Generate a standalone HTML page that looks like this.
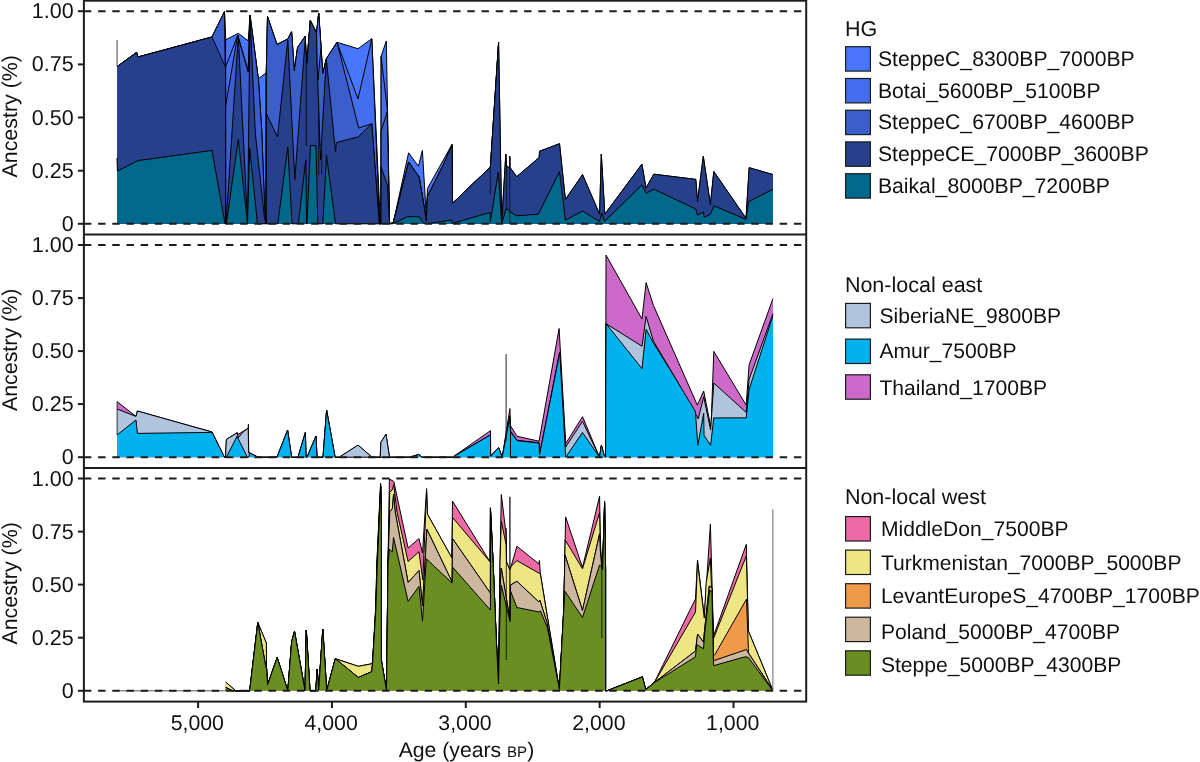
<!DOCTYPE html>
<html><head><meta charset="utf-8"><title>Ancestry through time</title>
<style>
html,body{margin:0;padding:0;background:#fff;}
body{width:1200px;height:762px;overflow:hidden;}
svg{display:block;will-change:transform;}
text{font-family:"Liberation Sans",sans-serif;fill:#111;text-rendering:geometricPrecision;}
</style></head><body>
<svg width="1200" height="762" viewBox="0 0 1200 762">
<rect width="1200" height="762" fill="#fff"/>
<g id="areas">
<path d="M117.0,223.8 L117.2,66.6 L136.6,52.4 L138.0,57.0 L212.0,37.0 L224.5,11.5 L225.7,39.8 L238.3,33.3 L248.2,40.8 L250.0,15.0 L258.3,78.8 L265.7,73.1 L266.2,73.0 L267.5,16.6 L277.0,44.5 L287.8,39.0 L291.6,31.8 L294.3,70.7 L297.6,47.3 L305.3,36.2 L305.8,50.0 L306.9,63.0 L310.3,20.6 L316.6,33.0 L318.7,13.1 L322.8,73.6 L326.3,58.8 L337.0,42.3 L358.0,48.7 L371.8,38.7 L380.4,223.8 L381.0,223.8 L381.1,56.3 L386.3,41.0 L389.6,223.8 L393.3,222.5 L408.6,152.8 L418.4,166.2 L422.4,150.4 L426.6,221.0 L427.4,188.6 L452.0,144.5 L452.5,203.3 L490.4,167.0 L498.6,42.5 L501.7,223.8 L505.8,154.2 L506.6,166.0 L509.5,168.0 L509.7,156.3 L510.0,167.5 L516.7,176.7 L539.2,157.5 L539.5,151.3 L559.5,143.7 L565.4,199.6 L582.5,174.6 L599.6,214.2 L601.3,154.2 L604.8,214.2 L641.9,164.2 L646.0,188.1 L653.8,174.2 L695.8,179.4 L697.5,201.7 L703.3,156.3 L710.4,204.8 L713.8,171.5 L746.0,218.3 L749.2,167.7 L773.0,174.6 L773.0,223.8Z" fill="#4876FF" stroke="none"/><path d="M117.2,66.6 L136.6,52.4 L138.0,57.0 L212.0,37.0 L224.5,11.5 L225.7,39.8 L238.3,33.3 L248.2,40.8 L250.0,15.0 L258.3,78.8 L265.7,73.1 L266.2,73.0 L267.5,16.6 L277.0,44.5 L287.8,39.0 L291.6,31.8 L294.3,70.7 L297.6,47.3 L305.3,36.2 L305.8,50.0 L306.9,63.0 L310.3,20.6 L316.6,33.0 L318.7,13.1 L322.8,73.6 L326.3,58.8 L337.0,42.3 L358.0,48.7 L371.8,38.7 L380.4,223.8 L381.0,223.8 L381.1,56.3 L386.3,41.0 L389.6,223.8 L393.3,222.5 L408.6,152.8 L418.4,166.2 L422.4,150.4 L426.6,221.0 L427.4,188.6 L452.0,144.5 L452.5,203.3 L490.4,167.0 L498.6,42.5 L501.7,223.8 L505.8,154.2 L506.6,166.0 L509.5,168.0 L509.7,156.3 L510.0,167.5 L516.7,176.7 L539.2,157.5 L539.5,151.3 L559.5,143.7 L565.4,199.6 L582.5,174.6 L599.6,214.2 L601.3,154.2 L604.8,214.2 L641.9,164.2 L646.0,188.1 L653.8,174.2 L695.8,179.4 L697.5,201.7 L703.3,156.3 L710.4,204.8 L713.8,171.5 L746.0,218.3 L749.2,167.7 L773.0,174.6" fill="none" stroke="#000" stroke-width="1.0" stroke-linejoin="miter" stroke-miterlimit="10"/>
<path d="M117.0,223.8 L117.2,66.6 L136.6,52.4 L138.0,57.0 L212.0,37.0 L224.5,11.5 L225.6,67.0 L237.8,35.0 L248.2,71.0 L250.0,15.0 L258.4,79.3 L261.7,130.0 L264.9,214.0 L266.2,223.8 L266.3,73.0 L267.5,16.6 L277.0,44.5 L287.8,39.0 L291.6,31.8 L294.3,70.7 L297.6,47.3 L305.3,36.2 L305.8,50.0 L306.9,63.0 L310.3,20.6 L316.6,33.0 L318.7,13.1 L322.8,73.6 L326.3,58.8 L337.0,42.3 L358.0,99.0 L371.8,38.7 L379.6,223.8 L381.0,223.8 L381.1,56.5 L387.2,108.0 L389.6,223.8 L393.3,222.5 L408.7,162.0 L419.2,177.2 L425.9,217.5 L426.3,220.8 L427.4,196.5 L444.0,163.4 L452.0,144.7 L452.5,203.3 L490.4,167.0 L498.6,42.5 L501.7,223.8Z" fill="#436EEE" stroke="none"/><path d="M117.2,66.6 L136.6,52.4 L138.0,57.0 L212.0,37.0 L224.5,11.5 L225.6,67.0 L237.8,35.0 L248.2,71.0 L250.0,15.0 L258.4,79.3 L261.7,130.0 L264.9,214.0 L266.2,223.8 L266.3,73.0 L267.5,16.6 L277.0,44.5 L287.8,39.0 L291.6,31.8 L294.3,70.7 L297.6,47.3 L305.3,36.2 L305.8,50.0 L306.9,63.0 L310.3,20.6 L316.6,33.0 L318.7,13.1 L322.8,73.6 L326.3,58.8 L337.0,42.3 L358.0,99.0 L371.8,38.7 L379.6,223.8 L381.0,223.8 L381.1,56.5 L387.2,108.0 L389.6,223.8 L393.3,222.5 L408.7,162.0 L419.2,177.2 L425.9,217.5 L426.3,220.8 L427.4,196.5 L444.0,163.4 L452.0,144.7 L452.5,203.3 L490.4,167.0 L498.6,42.5" fill="none" stroke="#000" stroke-width="1.0" stroke-linejoin="miter" stroke-miterlimit="10"/>
<path d="M117.0,223.8 L117.2,66.6 L136.6,52.4 L138.0,57.0 L212.0,37.0 L224.5,11.5 L225.6,106.0 L237.6,35.5 L248.2,72.0 L250.0,15.0 L258.4,79.6 L261.7,130.3 L264.9,214.3 L266.2,223.8 L266.3,73.0 L267.5,16.6 L277.0,44.5 L287.8,39.0 L291.6,31.8 L294.3,70.7 L297.6,47.3 L305.3,36.2 L305.8,50.0 L306.9,63.0 L310.3,20.6 L316.6,33.0 L318.7,13.1 L322.8,73.6 L326.3,58.8 L337.0,42.3 L358.7,128.0 L371.8,123.7 L379.3,223.8 L381.0,223.8 L381.1,131.0 L387.2,112.0 L389.6,223.8 L393.3,222.5 L408.7,162.0 L419.2,177.2 L425.9,217.5 L426.3,220.8 L427.4,196.5 L444.0,163.4 L452.0,144.7 L452.5,203.3 L490.4,167.0 L498.6,42.5 L501.7,223.8Z" fill="#3A5FCD" stroke="none"/><path d="M117.2,66.6 L136.6,52.4 L138.0,57.0 L212.0,37.0 L224.5,11.5 L225.6,106.0 L237.6,35.5 L248.2,72.0 L250.0,15.0 L258.4,79.6 L261.7,130.3 L264.9,214.3 L266.2,223.8 L266.3,73.0 L267.5,16.6 L277.0,44.5 L287.8,39.0 L291.6,31.8 L294.3,70.7 L297.6,47.3 L305.3,36.2 L305.8,50.0 L306.9,63.0 L310.3,20.6 L316.6,33.0 L318.7,13.1 L322.8,73.6 L326.3,58.8 L337.0,42.3 L358.7,128.0 L371.8,123.7 L379.3,223.8 L381.0,223.8 L381.1,131.0 L387.2,112.0 L389.6,223.8 L393.3,222.5 L408.7,162.0 L419.2,177.2 L425.9,217.5 L426.3,220.8 L427.4,196.5 L444.0,163.4 L452.0,144.7 L452.5,203.3 L490.4,167.0 L498.6,42.5" fill="none" stroke="#000" stroke-width="1.0" stroke-linejoin="miter" stroke-miterlimit="10"/>
<path d="M117.0,223.8 L117.2,66.6 L136.6,52.4 L138.0,57.0 L212.0,37.0 L224.5,65.0 L225.6,67.0 L225.7,223.8 L226.0,223.8 L238.3,36.0 L247.6,223.8 L250.0,15.0 L255.3,133.0 L264.5,218.0 L266.2,223.8 L266.4,113.6 L277.5,137.0 L287.8,40.0 L294.8,179.5 L305.3,38.0 L305.8,50.0 L306.9,63.0 L310.3,20.6 L316.6,33.0 L317.2,66.0 L320.5,160.0 L326.3,58.8 L335.5,152.0 L336.3,142.5 L358.0,137.0 L371.8,123.7 L379.3,223.8 L381.0,223.8 L381.1,167.0 L387.4,185.0 L389.6,223.8 L393.3,222.5 L408.7,162.0 L419.2,177.2 L425.9,217.5 L426.3,220.8 L427.4,196.5 L444.0,163.4 L452.0,144.7 L452.5,203.3 L490.4,167.0 L498.6,42.5 L501.7,223.8 L505.8,154.2 L506.6,166.0 L509.5,168.0 L509.7,156.3 L510.0,167.5 L516.7,176.7 L539.2,157.5 L539.5,151.3 L559.5,143.7 L565.4,199.6 L582.5,174.6 L599.6,214.2 L601.3,154.2 L604.8,214.2 L641.9,164.2 L646.0,188.1 L653.8,174.2 L695.8,179.4 L697.5,201.7 L703.3,156.3 L710.4,204.8 L713.8,171.5 L746.0,218.3 L749.2,167.7 L773.0,174.6 L773.0,223.8Z" fill="#27408B" stroke="none"/><path d="M117.2,66.6 L136.6,52.4 L138.0,57.0 L212.0,37.0 L224.5,65.0 L225.6,67.0 L225.7,223.8 L226.0,223.8 L238.3,36.0 L247.6,223.8 L250.0,15.0 L255.3,133.0 L264.5,218.0 L266.2,223.8 L266.4,113.6 L277.5,137.0 L287.8,40.0 L294.8,179.5 L305.3,38.0 L305.8,50.0 L306.9,63.0 L310.3,20.6 L316.6,33.0 L317.2,66.0 L320.5,160.0 L326.3,58.8 L335.5,152.0 L336.3,142.5 L358.0,137.0 L371.8,123.7 L379.3,223.8 L381.0,223.8 L381.1,167.0 L387.4,185.0 L389.6,223.8 L393.3,222.5 L408.7,162.0 L419.2,177.2 L425.9,217.5 L426.3,220.8 L427.4,196.5 L444.0,163.4 L452.0,144.7 L452.5,203.3 L490.4,167.0 L498.6,42.5 L501.7,223.8 L505.8,154.2 L506.6,166.0 L509.5,168.0 L509.7,156.3 L510.0,167.5 L516.7,176.7 L539.2,157.5 L539.5,151.3 L559.5,143.7 L565.4,199.6 L582.5,174.6 L599.6,214.2 L601.3,154.2 L604.8,214.2 L641.9,164.2 L646.0,188.1 L653.8,174.2 L695.8,179.4 L697.5,201.7 L703.3,156.3 L710.4,204.8 L713.8,171.5 L746.0,218.3 L749.2,167.7 L773.0,174.6" fill="none" stroke="#000" stroke-width="1.0" stroke-linejoin="miter" stroke-miterlimit="10"/>
<path d="M117.0,223.8 L117.0,158.0 L117.4,171.0 L138.0,160.6 L212.0,150.4 L225.0,223.8 L226.3,223.8 L238.3,139.5 L247.5,223.8 L249.7,148.5 L257.5,223.8 L277.8,223.8 L287.8,147.0 L292.0,223.8 L298.3,223.8 L305.8,159.8 L306.5,223.8 L306.9,223.8 L310.5,145.5 L316.0,145.5 L317.8,223.8 L322.8,223.8 L326.5,155.3 L335.5,223.8 L392.5,223.8 L407.5,216.7 L419.2,216.7 L423.0,222.5 L426.7,223.8 L451.7,220.0 L452.5,223.3 L490.0,212.5 L490.3,221.7 L498.3,172.0 L501.7,223.8 L506.3,208.3 L510.0,211.7 L516.7,215.8 L538.3,214.2 L559.5,171.7 L565.4,220.2 L582.5,211.0 L599.6,221.5 L601.7,213.1 L604.4,221.5 L641.9,185.0 L646.0,193.3 L653.8,189.2 L695.8,209.0 L697.5,215.2 L703.3,212.1 L704.2,217.3 L710.4,214.2 L713.8,205.8 L746.0,219.4 L748.5,201.7 L773.0,189.2 L773.0,223.8Z" fill="#00688B" stroke="none"/><path d="M117.0,158.0 L117.4,171.0 L138.0,160.6 L212.0,150.4 L225.0,223.8 L226.3,223.8 L238.3,139.5 L247.5,223.8 L249.7,148.5 L257.5,223.8 L277.8,223.8 L287.8,147.0 L292.0,223.8 L298.3,223.8 L305.8,159.8 L306.5,223.8 L306.9,223.8 L310.5,145.5 L316.0,145.5 L317.8,223.8 L322.8,223.8 L326.5,155.3 L335.5,223.8 L392.5,223.8 L407.5,216.7 L419.2,216.7 L423.0,222.5 L426.7,223.8 L451.7,220.0 L452.5,223.3 L490.0,212.5 L490.3,221.7 L498.3,172.0 L501.7,223.8 L506.3,208.3 L510.0,211.7 L516.7,215.8 L538.3,214.2 L559.5,171.7 L565.4,220.2 L582.5,211.0 L599.6,221.5 L601.7,213.1 L604.4,221.5 L641.9,185.0 L646.0,193.3 L653.8,189.2 L695.8,209.0 L697.5,215.2 L703.3,212.1 L704.2,217.3 L710.4,214.2 L713.8,205.8 L746.0,219.4 L748.5,201.7 L773.0,189.2" fill="none" stroke="#000" stroke-width="1.0" stroke-linejoin="miter" stroke-miterlimit="10"/>
<path d="M316.6,33.0 L318.7,13.1 L321.0,47.0 L318.0,80.0 L317.2,66.0Z" fill="#4876FF" stroke="#000" stroke-width="1.0" stroke-linejoin="miter" stroke-miterlimit="10"/>
<path d="M225.6,39.0 L225.6,223.8" fill="none" stroke="#000" stroke-width="1.0"/>
<path d="M266.2,73.0 L266.2,223.8" fill="none" stroke="#000" stroke-width="1.0"/>
<path d="M306.2,60.0 L306.2,146.0" fill="none" stroke="#000" stroke-width="0.9"/>
<path d="M490.3,167.0 L490.3,194.6" fill="none" stroke="#000" stroke-width="0.7"/>
<path d="M509.8,156.3 L509.8,223.8" fill="none" stroke="#000" stroke-width="0.7"/>
<path d="M506.6,166.0 L506.8,210.0" fill="none" stroke="#000" stroke-width="0.7"/>
<path d="M117.1,40.0 L117.1,66.6" fill="none" stroke="#333" stroke-width="0.9"/>
<path d="M318.7,100.0 L318.7,175.0" fill="none" stroke="#000" stroke-width="0.7"/>
<path d="M321.7,150.0 L321.7,174.0" fill="none" stroke="#000" stroke-width="0.7"/>
<path d="M117.0,457.2 L117.0,401.6 L136.0,416.4 L137.4,411.0 L212.0,432.0 L224.4,457.2 L225.5,457.2 L226.4,439.4 L237.3,432.5 L238.0,434.5 L248.2,428.1 L248.4,424.3 L248.7,453.0 L249.9,453.0 L258.0,457.2 L277.0,457.2 L287.6,430.0 L291.6,457.2 L298.0,457.2 L305.4,432.4 L306.0,457.2 L307.0,457.2 L316.0,436.0 L317.0,457.2 L323.0,457.2 L326.6,410.0 L335.1,457.2 L339.3,457.2 L358.0,445.1 L372.0,457.2 L380.2,457.2 L380.9,442.3 L386.0,434.2 L389.5,457.2 L409.3,457.2 L418.7,454.5 L422.2,457.2 L452.5,457.2 L490.5,430.7 L490.6,456.3 L498.5,447.5 L502.2,457.2 L509.9,408.6 L510.5,425.8 L517.1,436.3 L539.1,441.2 L559.1,328.5 L565.7,443.5 L582.5,416.7 L599.5,457.2 L601.4,445.1 L604.2,455.5 L605.6,457.2 L606.0,255.1 L642.0,319.0 L646.1,282.6 L653.4,305.3 L697.3,405.1 L703.7,391.0 L711.0,428.0 L713.8,351.4 L746.2,405.1 L749.1,364.8 L773.0,298.5 L773.0,457.2Z" fill="#CD69C9" stroke="none"/><path d="M117.0,401.6 L136.0,416.4 L137.4,411.0 L212.0,432.0 L224.4,457.2 L225.5,457.2 L226.4,439.4 L237.3,432.5 L238.0,434.5 L248.2,428.1 L248.4,424.3 L248.7,453.0 L249.9,453.0 L258.0,457.2 L277.0,457.2 L287.6,430.0 L291.6,457.2 L298.0,457.2 L305.4,432.4 L306.0,457.2 L307.0,457.2 L316.0,436.0 L317.0,457.2 L323.0,457.2 L326.6,410.0 L335.1,457.2 L339.3,457.2 L358.0,445.1 L372.0,457.2 L380.2,457.2 L380.9,442.3 L386.0,434.2 L389.5,457.2 L409.3,457.2 L418.7,454.5 L422.2,457.2 L452.5,457.2 L490.5,430.7 L490.6,456.3 L498.5,447.5 L502.2,457.2 L509.9,408.6 L510.5,425.8 L517.1,436.3 L539.1,441.2 L559.1,328.5 L565.7,443.5 L582.5,416.7 L599.5,457.2 L601.4,445.1 L604.2,455.5 L605.6,457.2 L606.0,255.1 L642.0,319.0 L646.1,282.6 L653.4,305.3 L697.3,405.1 L703.7,391.0 L711.0,428.0 L713.8,351.4 L746.2,405.1 L749.1,364.8 L773.0,298.5" fill="none" stroke="#000" stroke-width="1.0" stroke-linejoin="miter" stroke-miterlimit="10"/>
<path d="M117.0,457.2 L117.0,409.0 L136.0,416.4 L137.4,411.0 L212.0,432.0 L224.4,457.2 L225.5,457.2 L226.4,439.4 L237.3,432.8 L238.0,438.0 L244.0,431.2 L248.2,428.3 L248.7,453.0 L249.9,453.0 L258.0,457.2 L277.0,457.2 L287.6,430.0 L291.6,457.2 L298.0,457.2 L305.4,432.4 L306.0,457.2 L307.0,457.2 L316.0,436.0 L317.0,457.2 L323.0,457.2 L326.6,410.0 L335.1,457.2 L339.3,457.2 L358.0,445.1 L372.0,457.2 L380.2,457.2 L380.9,442.3 L386.0,434.2 L389.5,457.2 L409.3,457.2 L418.7,454.5 L422.2,457.2 L452.5,457.2 L490.5,434.9 L490.6,456.3 L498.5,447.5 L502.2,457.2 L509.8,416.0 L510.5,431.0 L517.1,440.3 L539.1,442.8 L539.5,455.0 L559.5,352.5 L565.7,447.0 L582.5,421.3 L599.5,457.2 L601.4,445.1 L604.2,455.5 L605.6,457.2 L606.0,323.6 L642.0,346.3 L646.1,316.3 L653.4,341.1 L676.0,379.0 L698.2,418.8 L703.7,396.8 L710.6,429.8 L713.8,383.1 L746.2,412.4 L749.1,379.4 L773.0,313.5 L773.0,457.2Z" fill="#B0C4DE" stroke="none"/><path d="M117.0,409.0 L136.0,416.4 L137.4,411.0 L212.0,432.0 L224.4,457.2 L225.5,457.2 L226.4,439.4 L237.3,432.8 L238.0,438.0 L244.0,431.2 L248.2,428.3 L248.7,453.0 L249.9,453.0 L258.0,457.2 L277.0,457.2 L287.6,430.0 L291.6,457.2 L298.0,457.2 L305.4,432.4 L306.0,457.2 L307.0,457.2 L316.0,436.0 L317.0,457.2 L323.0,457.2 L326.6,410.0 L335.1,457.2 L339.3,457.2 L358.0,445.1 L372.0,457.2 L380.2,457.2 L380.9,442.3 L386.0,434.2 L389.5,457.2 L409.3,457.2 L418.7,454.5 L422.2,457.2 L452.5,457.2 L490.5,434.9 L490.6,456.3 L498.5,447.5 L502.2,457.2 L509.8,416.0 L510.5,431.0 L517.1,440.3 L539.1,442.8 L539.5,455.0 L559.5,352.5 L565.7,447.0 L582.5,421.3 L599.5,457.2 L601.4,445.1 L604.2,455.5 L605.6,457.2 L606.0,323.6 L642.0,346.3 L646.1,316.3 L653.4,341.1 L676.0,379.0 L698.2,418.8 L703.7,396.8 L710.6,429.8 L713.8,383.1 L746.2,412.4 L749.1,379.4 L773.0,313.5" fill="none" stroke="#000" stroke-width="1.0" stroke-linejoin="miter" stroke-miterlimit="10"/>
<path d="M117.0,457.2 L117.0,435.0 L136.0,420.0 L137.4,433.4 L212.0,432.4 L224.4,457.2 L226.4,457.2 L237.0,436.3 L247.4,457.2 L248.5,457.2 L249.9,453.0 L258.0,457.2 L277.0,457.2 L287.6,430.0 L291.6,457.2 L298.0,457.2 L305.4,432.4 L306.0,457.2 L307.0,457.2 L316.0,436.0 L317.0,457.2 L323.0,457.2 L326.6,410.0 L335.1,457.2 L409.3,457.2 L412.0,457.2 L418.7,454.5 L422.2,457.2 L452.5,457.2 L490.5,434.9 L490.6,456.3 L498.5,447.5 L502.2,457.2 L509.7,418.0 L510.5,432.0 L517.1,440.7 L539.1,443.0 L539.5,455.0 L559.8,352.5 L565.7,457.2 L582.5,432.5 L599.5,457.2 L601.4,445.1 L604.2,455.5 L605.6,457.2 L606.0,323.6 L642.0,368.7 L646.1,329.2 L653.4,343.0 L676.4,380.0 L695.4,411.5 L697.8,445.4 L703.7,413.3 L704.0,435.3 L710.6,445.4 L713.8,417.9 L746.2,417.9 L749.1,389.5 L773.0,315.4 L773.0,457.2Z" fill="#00B2EE" stroke="none"/><path d="M117.0,435.0 L136.0,420.0 L137.4,433.4 L212.0,432.4 L224.4,457.2 L226.4,457.2 L237.0,436.3 L247.4,457.2 L248.5,457.2 L249.9,453.0 L258.0,457.2 L277.0,457.2 L287.6,430.0 L291.6,457.2 L298.0,457.2 L305.4,432.4 L306.0,457.2 L307.0,457.2 L316.0,436.0 L317.0,457.2 L323.0,457.2 L326.6,410.0 L335.1,457.2 L409.3,457.2 L412.0,457.2 L418.7,454.5 L422.2,457.2 L452.5,457.2 L490.5,434.9 L490.6,456.3 L498.5,447.5 L502.2,457.2 L509.7,418.0 L510.5,432.0 L517.1,440.7 L539.1,443.0 L539.5,455.0 L559.8,352.5 L565.7,457.2 L582.5,432.5 L599.5,457.2 L601.4,445.1 L604.2,455.5 L605.6,457.2 L606.0,323.6 L642.0,368.7 L646.1,329.2 L653.4,343.0 L676.4,380.0 L695.4,411.5 L697.8,445.4 L703.7,413.3 L704.0,435.3 L710.6,445.4 L713.8,417.9 L746.2,417.9 L749.1,389.5 L773.0,315.4" fill="none" stroke="#000" stroke-width="1.0" stroke-linejoin="miter" stroke-miterlimit="10"/>
<path d="M506.1,354.1 L506.1,441.0" fill="none" stroke="#222" stroke-width="1.0"/>
<path d="M510.5,426.0 L510.5,457.2" fill="none" stroke="#000" stroke-width="1.0"/>
<path d="M117.1,401.6 L117.1,435.0" fill="none" stroke="#222" stroke-width="0.9"/>
<path d="M117.0,690.8 L250.0,690.8" fill="none" stroke="#444" stroke-width="0.9"/>
<path d="M225.0,690.8 L225.8,682.2 L235.8,690.8 L249.7,690.8 L257.8,622.5 L266.3,643.0 L266.5,668.3 L267.5,685.0 L277.2,657.5 L287.8,690.8 L291.7,641.7 L294.5,631.3 L305.0,690.8 L306.3,630.0 L310.0,690.8 L315.8,690.8 L317.2,669.2 L318.7,690.0 L322.8,629.2 L326.7,690.8 L335.3,658.7 L358.3,666.3 L371.7,663.8 L372.6,662.0 L375.6,610.0 L376.9,563.0 L380.6,483.6 L381.3,520.0 L381.3,660.0 L386.5,690.6 L388.0,563.0 L389.4,479.0 L393.8,481.5 L408.1,548.0 L419.0,538.6 L422.5,553.0 L426.6,488.6 L427.5,514.3 L451.9,558.0 L452.5,501.1 L490.0,561.8 L490.4,507.8 L493.1,563.0 L496.3,640.0 L498.5,684.0 L500.0,563.0 L501.3,494.5 L506.2,535.0 L506.6,562.0 L509.8,570.0 L510.6,568.0 L516.9,546.3 L538.8,563.8 L539.4,560.6 L540.3,573.0 L546.3,610.0 L559.4,689.4 L563.8,610.0 L565.6,516.9 L582.5,567.5 L599.6,496.3 L600.3,540.0 L601.5,566.0 L602.5,570.0 L604.6,501.0 L605.6,570.0 L605.6,690.8 L606.9,690.8 L642.4,676.9 L645.7,689.7 L654.7,681.8 L695.5,598.8 L697.5,560.0 L704.3,617.0 L710.4,524.0 L713.5,636.0 L746.3,544.4 L748.4,631.0 L772.7,690.0 L773.0,690.8Z" fill="#EE6AA7" stroke="none"/><path d="M225.8,682.2 L235.8,690.8 L249.7,690.8 L257.8,622.5 L266.3,643.0 L266.5,668.3 L267.5,685.0 L277.2,657.5 L287.8,690.8 L291.7,641.7 L294.5,631.3 L305.0,690.8 L306.3,630.0 L310.0,690.8 L315.8,690.8 L317.2,669.2 L318.7,690.0 L322.8,629.2 L326.7,690.8 L335.3,658.7 L358.3,666.3 L371.7,663.8 L372.6,662.0 L375.6,610.0 L376.9,563.0 L380.6,483.6 L381.3,520.0 L381.3,660.0 L386.5,690.6 L388.0,563.0 L389.4,479.0 L393.8,481.5 L408.1,548.0 L419.0,538.6 L422.5,553.0 L426.6,488.6 L427.5,514.3 L451.9,558.0 L452.5,501.1 L490.0,561.8 L490.4,507.8 L493.1,563.0 L496.3,640.0 L498.5,684.0 L500.0,563.0 L501.3,494.5 L506.2,535.0 L506.6,562.0 L509.8,570.0 L510.6,568.0 L516.9,546.3 L538.8,563.8 L539.4,560.6 L540.3,573.0 L546.3,610.0 L559.4,689.4 L563.8,610.0 L565.6,516.9 L582.5,567.5 L599.6,496.3 L600.3,540.0 L601.5,566.0 L602.5,570.0 L604.6,501.0 L605.6,570.0 L605.6,690.8 L606.9,690.8 L642.4,676.9 L645.7,689.7 L654.7,681.8 L695.5,598.8 L697.5,560.0 L704.3,617.0 L710.4,524.0 L713.5,636.0 L746.3,544.4 L748.4,631.0 L772.7,690.0" fill="none" stroke="#000" stroke-width="1.0" stroke-linejoin="miter" stroke-miterlimit="10"/>
<path d="M225.0,690.8 L225.8,682.2 L235.8,690.8 L249.7,690.8 L257.8,622.5 L266.3,643.0 L266.5,668.3 L267.5,685.0 L277.2,657.5 L287.8,690.8 L291.7,641.7 L294.5,631.3 L305.0,690.8 L306.3,630.0 L310.0,690.8 L315.8,690.8 L317.2,669.2 L318.7,690.0 L322.8,629.2 L326.7,690.8 L335.3,658.7 L358.3,666.3 L371.7,663.8 L372.6,662.0 L375.6,610.0 L376.9,563.0 L380.6,483.6 L381.3,520.0 L381.3,660.0 L386.5,690.6 L388.0,563.0 L389.7,492.5 L392.5,489.5 L393.7,484.5 L397.0,512.0 L408.1,561.5 L419.0,551.7 L422.8,580.0 L426.6,492.0 L427.5,514.3 L451.9,558.0 L452.5,517.4 L490.0,561.8 L490.4,507.8 L493.1,563.0 L496.3,640.0 L498.5,684.0 L500.0,563.0 L501.3,521.3 L506.2,545.0 L506.6,562.0 L509.8,570.0 L511.3,566.3 L516.9,560.6 L538.8,573.1 L540.3,573.5 L546.3,610.5 L559.4,689.4 L563.8,610.0 L565.2,540.0 L582.5,568.8 L599.6,512.5 L600.3,545.0 L601.5,566.0 L602.5,570.0 L604.6,503.0 L605.6,570.0 L605.6,690.8 L606.9,690.8 L642.4,676.9 L645.7,689.7 L654.7,682.0 L695.5,612.0 L697.5,562.0 L704.3,618.0 L706.2,582.5 L710.4,558.0 L713.5,638.5 L746.3,556.0 L748.4,631.0 L772.7,690.0 L773.0,690.8Z" fill="#EEE685" stroke="none"/><path d="M225.8,682.2 L235.8,690.8 L249.7,690.8 L257.8,622.5 L266.3,643.0 L266.5,668.3 L267.5,685.0 L277.2,657.5 L287.8,690.8 L291.7,641.7 L294.5,631.3 L305.0,690.8 L306.3,630.0 L310.0,690.8 L315.8,690.8 L317.2,669.2 L318.7,690.0 L322.8,629.2 L326.7,690.8 L335.3,658.7 L358.3,666.3 L371.7,663.8 L372.6,662.0 L375.6,610.0 L376.9,563.0 L380.6,483.6 L381.3,520.0 L381.3,660.0 L386.5,690.6 L388.0,563.0 L389.7,492.5 L392.5,489.5 L393.7,484.5 L397.0,512.0 L408.1,561.5 L419.0,551.7 L422.8,580.0 L426.6,492.0 L427.5,514.3 L451.9,558.0 L452.5,517.4 L490.0,561.8 L490.4,507.8 L493.1,563.0 L496.3,640.0 L498.5,684.0 L500.0,563.0 L501.3,521.3 L506.2,545.0 L506.6,562.0 L509.8,570.0 L511.3,566.3 L516.9,560.6 L538.8,573.1 L540.3,573.5 L546.3,610.5 L559.4,689.4 L563.8,610.0 L565.2,540.0 L582.5,568.8 L599.6,512.5 L600.3,545.0 L601.5,566.0 L602.5,570.0 L604.6,503.0 L605.6,570.0 L605.6,690.8 L606.9,690.8 L642.4,676.9 L645.7,689.7 L654.7,682.0 L695.5,612.0 L697.5,562.0 L704.3,618.0 L706.2,582.5 L710.4,558.0 L713.5,638.5 L746.3,556.0 L748.4,631.0 L772.7,690.0" fill="none" stroke="#000" stroke-width="1.0" stroke-linejoin="miter" stroke-miterlimit="10"/>
<path d="M225.0,690.8 L225.8,687.5 L232.5,690.8 L249.7,690.8 L257.8,622.5 L265.8,666.7 L266.6,668.3 L267.5,685.0 L277.2,657.5 L287.8,690.8 L291.7,641.7 L294.5,631.3 L305.0,690.8 L306.3,630.0 L310.0,690.8 L315.8,690.8 L317.2,669.2 L318.7,690.0 L322.8,629.2 L326.7,690.8 L335.3,658.7 L358.3,677.5 L371.7,671.7 L372.6,663.0 L375.8,610.0 L377.2,563.0 L380.7,486.0 L381.3,520.0 L381.3,660.0 L386.5,690.6 L388.0,563.0 L389.8,511.8 L392.4,508.5 L393.6,494.0 L395.2,512.0 L408.1,582.5 L419.0,570.6 L422.5,606.0 L426.9,529.3 L452.1,582.0 L452.5,538.6 L490.4,593.1 L490.5,509.0 L493.1,563.0 L496.3,640.0 L498.5,684.0 L500.2,585.0 L501.3,568.0 L506.3,598.0 L510.0,620.0 L510.6,585.0 L516.9,581.3 L538.8,601.9 L539.8,600.0 L546.8,622.0 L559.4,689.4 L563.6,612.0 L565.0,555.0 L582.5,610.5 L599.6,533.8 L600.3,550.0 L601.5,566.0 L602.5,570.0 L604.6,503.0 L605.6,570.0 L605.6,690.8 L606.9,690.8 L642.4,676.9 L645.7,689.7 L654.7,682.2 L695.5,651.0 L697.6,634.1 L703.5,642.2 L704.5,631.0 L709.3,586.0 L712.0,588.0 L713.5,655.0 L714.9,654.6 L746.5,599.1 L748.4,648.8 L748.5,653.0 L772.7,690.0 L773.0,690.8Z" fill="#EE9A49" stroke="none"/><path d="M225.8,687.5 L232.5,690.8 L249.7,690.8 L257.8,622.5 L265.8,666.7 L266.6,668.3 L267.5,685.0 L277.2,657.5 L287.8,690.8 L291.7,641.7 L294.5,631.3 L305.0,690.8 L306.3,630.0 L310.0,690.8 L315.8,690.8 L317.2,669.2 L318.7,690.0 L322.8,629.2 L326.7,690.8 L335.3,658.7 L358.3,677.5 L371.7,671.7 L372.6,663.0 L375.8,610.0 L377.2,563.0 L380.7,486.0 L381.3,520.0 L381.3,660.0 L386.5,690.6 L388.0,563.0 L389.8,511.8 L392.4,508.5 L393.6,494.0 L395.2,512.0 L408.1,582.5 L419.0,570.6 L422.5,606.0 L426.9,529.3 L452.1,582.0 L452.5,538.6 L490.4,593.1 L490.5,509.0 L493.1,563.0 L496.3,640.0 L498.5,684.0 L500.2,585.0 L501.3,568.0 L506.3,598.0 L510.0,620.0 L510.6,585.0 L516.9,581.3 L538.8,601.9 L539.8,600.0 L546.8,622.0 L559.4,689.4 L563.6,612.0 L565.0,555.0 L582.5,610.5 L599.6,533.8 L600.3,550.0 L601.5,566.0 L602.5,570.0 L604.6,503.0 L605.6,570.0 L605.6,690.8 L606.9,690.8 L642.4,676.9 L645.7,689.7 L654.7,682.2 L695.5,651.0 L697.6,634.1 L703.5,642.2 L704.5,631.0 L709.3,586.0 L712.0,588.0 L713.5,655.0 L714.9,654.6 L746.5,599.1 L748.4,648.8 L748.5,653.0 L772.7,690.0" fill="none" stroke="#000" stroke-width="1.0" stroke-linejoin="miter" stroke-miterlimit="10"/>
<path d="M225.0,690.8 L225.8,687.5 L232.5,690.8 L249.7,690.8 L257.8,622.5 L265.8,666.7 L266.6,668.3 L267.5,685.0 L277.2,657.5 L287.8,690.8 L291.7,641.7 L294.5,631.3 L305.0,690.8 L306.3,630.0 L310.0,690.8 L315.8,690.8 L317.2,669.2 L318.7,690.0 L322.8,629.2 L326.7,690.8 L335.3,658.7 L358.3,677.5 L371.7,671.7 L372.6,663.0 L375.8,610.0 L377.2,563.0 L380.7,486.0 L381.3,520.0 L381.3,660.0 L386.5,690.6 L388.0,563.0 L389.8,511.8 L392.4,508.5 L393.6,494.0 L395.2,512.0 L408.1,582.5 L419.0,570.6 L422.5,606.0 L426.9,529.3 L452.1,582.0 L452.5,538.6 L490.4,593.1 L490.5,509.0 L493.1,563.0 L496.3,640.0 L498.5,684.0 L500.2,585.0 L501.3,568.0 L506.3,598.0 L510.0,620.0 L510.6,585.0 L516.9,581.3 L538.8,601.9 L539.8,600.0 L546.8,622.0 L559.4,689.4 L563.6,612.0 L565.0,555.0 L582.5,610.5 L599.6,533.8 L600.3,550.0 L601.5,566.0 L602.5,570.0 L604.6,503.0 L605.6,570.0 L605.6,690.8 L606.9,690.8 L642.4,676.9 L645.7,689.7 L654.7,682.2 L695.5,651.0 L697.6,634.1 L703.5,642.2 L704.5,631.0 L709.3,586.0 L712.0,588.0 L713.5,660.0 L714.2,660.5 L746.5,649.5 L748.4,653.0 L772.7,690.0 L773.0,690.8Z" fill="#CDB79E" stroke="none"/><path d="M225.8,687.5 L232.5,690.8 L249.7,690.8 L257.8,622.5 L265.8,666.7 L266.6,668.3 L267.5,685.0 L277.2,657.5 L287.8,690.8 L291.7,641.7 L294.5,631.3 L305.0,690.8 L306.3,630.0 L310.0,690.8 L315.8,690.8 L317.2,669.2 L318.7,690.0 L322.8,629.2 L326.7,690.8 L335.3,658.7 L358.3,677.5 L371.7,671.7 L372.6,663.0 L375.8,610.0 L377.2,563.0 L380.7,486.0 L381.3,520.0 L381.3,660.0 L386.5,690.6 L388.0,563.0 L389.8,511.8 L392.4,508.5 L393.6,494.0 L395.2,512.0 L408.1,582.5 L419.0,570.6 L422.5,606.0 L426.9,529.3 L452.1,582.0 L452.5,538.6 L490.4,593.1 L490.5,509.0 L493.1,563.0 L496.3,640.0 L498.5,684.0 L500.2,585.0 L501.3,568.0 L506.3,598.0 L510.0,620.0 L510.6,585.0 L516.9,581.3 L538.8,601.9 L539.8,600.0 L546.8,622.0 L559.4,689.4 L563.6,612.0 L565.0,555.0 L582.5,610.5 L599.6,533.8 L600.3,550.0 L601.5,566.0 L602.5,570.0 L604.6,503.0 L605.6,570.0 L605.6,690.8 L606.9,690.8 L642.4,676.9 L645.7,689.7 L654.7,682.2 L695.5,651.0 L697.6,634.1 L703.5,642.2 L704.5,631.0 L709.3,586.0 L712.0,588.0 L713.5,660.0 L714.2,660.5 L746.5,649.5 L748.4,653.0 L772.7,690.0" fill="none" stroke="#000" stroke-width="1.0" stroke-linejoin="miter" stroke-miterlimit="10"/>
<path d="M225.0,690.8 L225.8,687.5 L232.5,690.8 L249.7,690.8 L257.8,622.5 L265.8,666.7 L266.6,668.3 L267.5,685.0 L277.2,657.5 L287.8,690.8 L291.7,641.7 L294.5,631.3 L305.0,690.8 L306.3,630.0 L310.0,690.8 L315.8,690.8 L317.2,669.2 L318.7,690.0 L322.8,629.2 L326.7,690.8 L335.3,658.7 L358.3,677.5 L371.7,671.7 L372.6,663.0 L375.8,610.0 L377.4,563.0 L380.8,487.0 L381.3,520.0 L381.3,660.0 L386.5,690.6 L388.1,563.0 L389.4,549.3 L392.3,551.8 L393.5,537.4 L399.4,563.0 L408.1,601.3 L419.0,586.3 L422.5,621.3 L426.3,558.8 L452.1,583.1 L452.9,567.5 L490.4,610.0 L490.5,511.0 L493.1,563.0 L496.3,640.0 L498.5,684.0 L500.3,600.0 L501.3,585.0 L506.3,606.0 L510.0,621.5 L510.6,591.3 L516.9,607.5 L538.8,611.9 L540.5,611.0 L547.5,628.0 L559.4,689.4 L563.4,616.0 L565.0,591.3 L582.5,617.5 L599.6,565.0 L601.5,566.5 L602.5,570.0 L604.6,505.0 L605.6,570.0 L605.6,690.8 L606.9,690.8 L642.4,676.9 L645.7,689.7 L654.7,682.4 L695.5,656.8 L696.6,644.4 L703.5,648.8 L704.6,634.0 L709.6,590.0 L712.0,592.0 L713.5,665.7 L745.0,656.8 L748.4,657.5 L772.7,690.6 L773.0,690.8Z" fill="#6B8E23" stroke="none"/><path d="M225.8,687.5 L232.5,690.8 L249.7,690.8 L257.8,622.5 L265.8,666.7 L266.6,668.3 L267.5,685.0 L277.2,657.5 L287.8,690.8 L291.7,641.7 L294.5,631.3 L305.0,690.8 L306.3,630.0 L310.0,690.8 L315.8,690.8 L317.2,669.2 L318.7,690.0 L322.8,629.2 L326.7,690.8 L335.3,658.7 L358.3,677.5 L371.7,671.7 L372.6,663.0 L375.8,610.0 L377.4,563.0 L380.8,487.0 L381.3,520.0 L381.3,660.0 L386.5,690.6 L388.1,563.0 L389.4,549.3 L392.3,551.8 L393.5,537.4 L399.4,563.0 L408.1,601.3 L419.0,586.3 L422.5,621.3 L426.3,558.8 L452.1,583.1 L452.9,567.5 L490.4,610.0 L490.5,511.0 L493.1,563.0 L496.3,640.0 L498.5,684.0 L500.3,600.0 L501.3,585.0 L506.3,606.0 L510.0,621.5 L510.6,591.3 L516.9,607.5 L538.8,611.9 L540.5,611.0 L547.5,628.0 L559.4,689.4 L563.4,616.0 L565.0,591.3 L582.5,617.5 L599.6,565.0 L601.5,566.5 L602.5,570.0 L604.6,505.0 L605.6,570.0 L605.6,690.8 L606.9,690.8 L642.4,676.9 L645.7,689.7 L654.7,682.4 L695.5,656.8 L696.6,644.4 L703.5,648.8 L704.6,634.0 L709.6,590.0 L712.0,592.0 L713.5,665.7 L745.0,656.8 L748.4,657.5 L772.7,690.6" fill="none" stroke="#000" stroke-width="1.0" stroke-linejoin="miter" stroke-miterlimit="10"/>
<path d="M506.3,528.0 L506.3,660.0" fill="none" stroke="#000" stroke-width="0.8"/>
<path d="M509.9,496.8 L509.9,620.0" fill="none" stroke="#000" stroke-width="1.2"/>
<path d="M601.8,565.0 L601.8,638.0" fill="none" stroke="#000" stroke-width="0.8"/>
<path d="M772.9,509.3 L772.9,690.8" fill="none" stroke="#666" stroke-width="1.0"/>
</g>
<g id="frame">
<line x1="77.9" y1="11.2" x2="84" y2="11.2" stroke="#1c1c1c" stroke-width="2.0"/>
<line x1="83.9" y1="11.2" x2="802" y2="11.2" stroke="#1c1c1c" stroke-width="2.0" stroke-dasharray="7.45 6.75"/>
<line x1="77.9" y1="223.8" x2="84" y2="223.8" stroke="#1c1c1c" stroke-width="2.0"/>
<line x1="83.9" y1="223.8" x2="802" y2="223.8" stroke="#1c1c1c" stroke-width="2.0" stroke-dasharray="7.45 6.75"/>
<line x1="77.9" y1="64.4" x2="84" y2="64.4" stroke="#1c1c1c" stroke-width="2.0"/>
<line x1="77.9" y1="117.5" x2="84" y2="117.5" stroke="#1c1c1c" stroke-width="2.0"/>
<line x1="77.9" y1="170.7" x2="84" y2="170.7" stroke="#1c1c1c" stroke-width="2.0"/>
<line x1="77.9" y1="245.0" x2="84" y2="245.0" stroke="#1c1c1c" stroke-width="2.0"/>
<line x1="83.9" y1="245.0" x2="802" y2="245.0" stroke="#1c1c1c" stroke-width="2.0" stroke-dasharray="7.45 6.75"/>
<line x1="77.9" y1="457.2" x2="84" y2="457.2" stroke="#1c1c1c" stroke-width="2.0"/>
<line x1="83.9" y1="457.2" x2="802" y2="457.2" stroke="#1c1c1c" stroke-width="2.0" stroke-dasharray="7.45 6.75"/>
<line x1="77.9" y1="298.1" x2="84" y2="298.1" stroke="#1c1c1c" stroke-width="2.0"/>
<line x1="77.9" y1="351.1" x2="84" y2="351.1" stroke="#1c1c1c" stroke-width="2.0"/>
<line x1="77.9" y1="404.1" x2="84" y2="404.1" stroke="#1c1c1c" stroke-width="2.0"/>
<line x1="77.9" y1="478.5" x2="84" y2="478.5" stroke="#1c1c1c" stroke-width="2.0"/>
<line x1="83.9" y1="478.5" x2="802" y2="478.5" stroke="#1c1c1c" stroke-width="2.0" stroke-dasharray="7.45 6.75"/>
<line x1="77.9" y1="690.8" x2="84" y2="690.8" stroke="#1c1c1c" stroke-width="2.0"/>
<line x1="83.9" y1="690.8" x2="802" y2="690.8" stroke="#1c1c1c" stroke-width="2.0" stroke-dasharray="7.45 6.75"/>
<line x1="77.9" y1="531.6" x2="84" y2="531.6" stroke="#1c1c1c" stroke-width="2.0"/>
<line x1="77.9" y1="584.6" x2="84" y2="584.6" stroke="#1c1c1c" stroke-width="2.0"/>
<line x1="77.9" y1="637.7" x2="84" y2="637.7" stroke="#1c1c1c" stroke-width="2.0"/>
<rect x="83.9" y="0.7" width="722.3" height="700.9" fill="none" stroke="#1c1c1c" stroke-width="2.0"/>
<line x1="83.9" y1="234.4" x2="806.2" y2="234.4" stroke="#1c1c1c" stroke-width="2.0"/>
<line x1="83.9" y1="468.0" x2="806.2" y2="468.0" stroke="#1c1c1c" stroke-width="2.0"/>
<line x1="198.1" y1="701.5" x2="198.1" y2="708" stroke="#1c1c1c" stroke-width="2.0"/>
<line x1="331.95" y1="701.5" x2="331.95" y2="708" stroke="#1c1c1c" stroke-width="2.0"/>
<line x1="465.8" y1="701.5" x2="465.8" y2="708" stroke="#1c1c1c" stroke-width="2.0"/>
<line x1="599.65" y1="701.5" x2="599.65" y2="708" stroke="#1c1c1c" stroke-width="2.0"/>
<line x1="733.5" y1="701.5" x2="733.5" y2="708" stroke="#1c1c1c" stroke-width="2.0"/>
</g>
<g id="labels">
<text x="73.7" y="18.2" font-size="21.5" text-anchor="end" >1.00</text>
<text x="73.7" y="71.4" font-size="21.5" text-anchor="end" >0.75</text>
<text x="73.7" y="124.5" font-size="21.5" text-anchor="end" >0.50</text>
<text x="73.7" y="177.7" font-size="21.5" text-anchor="end" >0.25</text>
<text x="73.7" y="230.8" font-size="21.5" text-anchor="end" >0</text>
<text transform="translate(17.3,116.3) rotate(-90)" font-size="21.4" text-anchor="middle">Ancestry (%)</text>
<text x="73.7" y="252.0" font-size="21.5" text-anchor="end" >1.00</text>
<text x="73.7" y="305.1" font-size="21.5" text-anchor="end" >0.75</text>
<text x="73.7" y="358.1" font-size="21.5" text-anchor="end" >0.50</text>
<text x="73.7" y="411.1" font-size="21.5" text-anchor="end" >0.25</text>
<text x="73.7" y="464.2" font-size="21.5" text-anchor="end" >0</text>
<text transform="translate(17.3,349.9) rotate(-90)" font-size="21.4" text-anchor="middle">Ancestry (%)</text>
<text x="73.7" y="485.5" font-size="21.5" text-anchor="end" >1.00</text>
<text x="73.7" y="538.6" font-size="21.5" text-anchor="end" >0.75</text>
<text x="73.7" y="591.6" font-size="21.5" text-anchor="end" >0.50</text>
<text x="73.7" y="644.7" font-size="21.5" text-anchor="end" >0.25</text>
<text x="73.7" y="697.8" font-size="21.5" text-anchor="end" >0</text>
<text transform="translate(17.3,583.4) rotate(-90)" font-size="21.4" text-anchor="middle">Ancestry (%)</text>
<text x="197.29999999999998" y="730.2" font-size="21.3" text-anchor="middle" >5,000</text>
<text x="331.15" y="730.2" font-size="21.3" text-anchor="middle" >4,000</text>
<text x="465.0" y="730.2" font-size="21.3" text-anchor="middle" >3,000</text>
<text x="598.85" y="730.2" font-size="21.3" text-anchor="middle" >2,000</text>
<text x="732.7" y="730.2" font-size="21.3" text-anchor="middle" >1,000</text>
<text x="398.7" y="757.3" font-size="21.2">Age (years <tspan font-size="15.1">BP</tspan>)</text>
<text x="845.0" y="35.9" font-size="21.5" text-anchor="start" >HG</text>
<rect x="845.6" y="46.7" width="24.8" height="24.4" fill="#4876FF" stroke="#1c1c1c" stroke-width="1.2"/>
<text x="877.9" y="66.3" font-size="21.2" text-anchor="start" >SteppeC_8300BP_7000BP</text>
<rect x="845.6" y="78.5" width="24.8" height="24.4" fill="#436EEE" stroke="#1c1c1c" stroke-width="1.2"/>
<text x="877.9" y="98.1" font-size="21.2" text-anchor="start" >Botai_5600BP_5100BP</text>
<rect x="845.6" y="110.2" width="24.8" height="24.4" fill="#3A5FCD" stroke="#1c1c1c" stroke-width="1.2"/>
<text x="877.9" y="128.6" font-size="21.2" text-anchor="start" >SteppeC_6700BP_4600BP</text>
<rect x="845.6" y="141.9" width="24.8" height="24.4" fill="#27408B" stroke="#1c1c1c" stroke-width="1.2"/>
<text x="877.9" y="160.9" font-size="21.2" text-anchor="start" >SteppeCE_7000BP_3600BP</text>
<rect x="845.6" y="173.7" width="24.8" height="24.4" fill="#00688B" stroke="#1c1c1c" stroke-width="1.2"/>
<text x="877.9" y="192.7" font-size="21.2" text-anchor="start" >Baikal_8000BP_7200BP</text>
<text x="844.9" y="292.0" font-size="21.5" text-anchor="start" >Non-local east</text>
<rect x="845.6" y="303.4" width="24.8" height="24.4" fill="#B0C4DE" stroke="#1c1c1c" stroke-width="1.2"/>
<text x="879.4" y="322.9" font-size="21.1" text-anchor="start" >SiberiaNE_9800BP</text>
<rect x="845.6" y="339.1" width="24.8" height="24.4" fill="#00B2EE" stroke="#1c1c1c" stroke-width="1.2"/>
<text x="879.4" y="357.8" font-size="21.1" text-anchor="start" >Amur_7500BP</text>
<rect x="845.6" y="374.8" width="24.8" height="24.4" fill="#CD69C9" stroke="#1c1c1c" stroke-width="1.2"/>
<text x="879.4" y="394.6" font-size="21.1" text-anchor="start" >Thailand_1700BP</text>
<text x="844.9" y="504.3" font-size="21.5" text-anchor="start" >Non-local west</text>
<rect x="845.6" y="516.6" width="24.8" height="24.4" fill="#EE6AA7" stroke="#1c1c1c" stroke-width="1.2"/>
<text x="880.9" y="536.2" font-size="21.1" text-anchor="start" >MiddleDon_7500BP</text>
<rect x="845.6" y="550.1" width="24.8" height="24.4" fill="#EEE685" stroke="#1c1c1c" stroke-width="1.2"/>
<text x="880.9" y="570.3" font-size="21.1" text-anchor="start" >Turkmenistan_7000BP_5000BP</text>
<rect x="845.6" y="583.7" width="24.8" height="24.4" fill="#EE9A49" stroke="#1c1c1c" stroke-width="1.2"/>
<text x="880.9" y="603.4" font-size="21.1" text-anchor="start" >LevantEuropeS_4700BP_1700BP</text>
<rect x="845.6" y="617.2" width="24.8" height="24.4" fill="#CDB79E" stroke="#1c1c1c" stroke-width="1.2"/>
<text x="880.9" y="639.1" font-size="21.1" text-anchor="start" >Poland_5000BP_4700BP</text>
<rect x="845.6" y="650.8" width="24.8" height="24.4" fill="#6B8E23" stroke="#1c1c1c" stroke-width="1.2"/>
<text x="880.9" y="672.4" font-size="21.1" text-anchor="start" >Steppe_5000BP_4300BP</text>
</g>
</svg>
</body></html>
